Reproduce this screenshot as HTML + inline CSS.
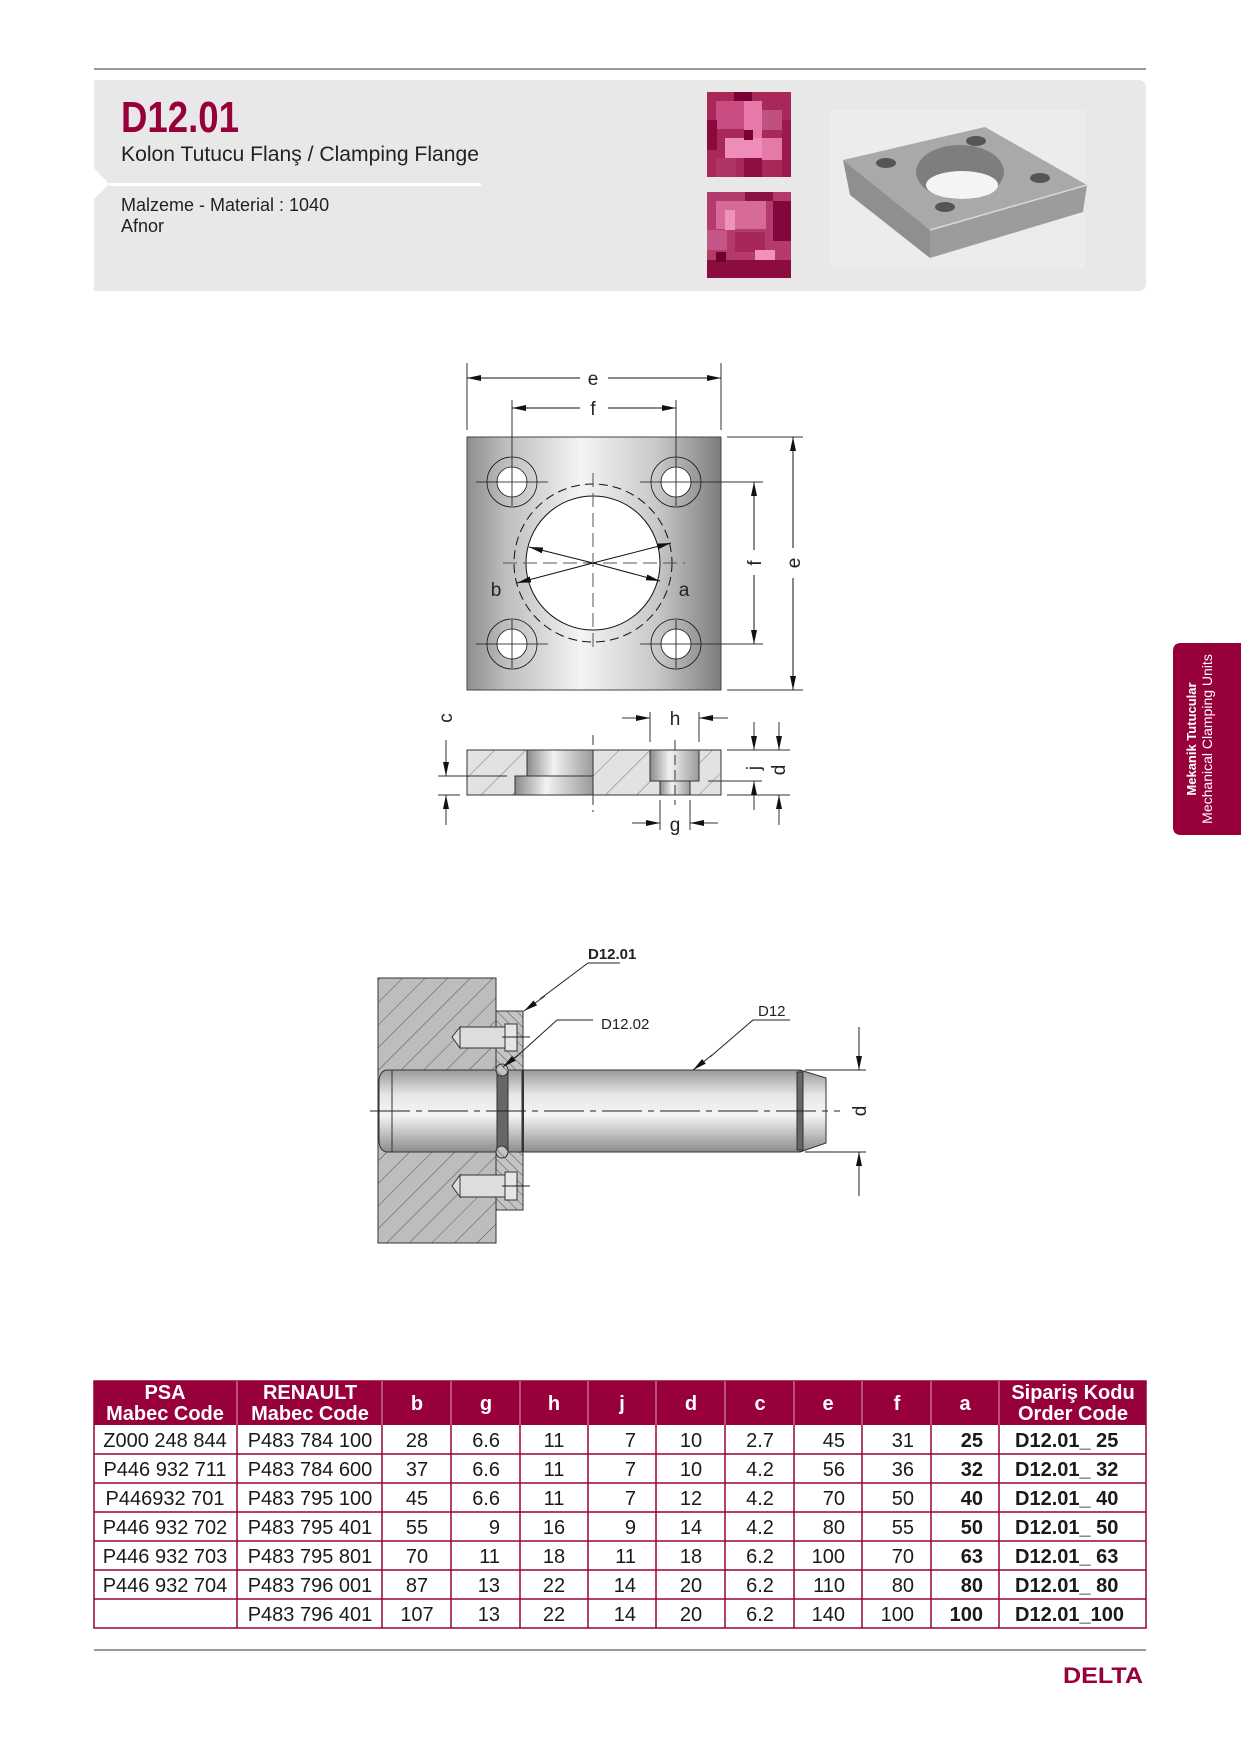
<!DOCTYPE html>
<html><head><meta charset="utf-8"><style>
html,body{margin:0;padding:0;background:#fff;}
svg{display:block;}
text{font-family:"Liberation Sans",Arial,sans-serif;}
.n{font-family:"Liberation Sans Narrow","Liberation Sans",sans-serif;}
</style></head><body>
<svg width="1241" height="1755" viewBox="0 0 1241 1755" xmlns="http://www.w3.org/2000/svg">
<defs>
<linearGradient id="plate" x1="0" x2="1" y1="0" y2="0">
<stop offset="0" stop-color="#8e8e8e"/><stop offset="0.15" stop-color="#bdbdbd"/><stop offset="0.45" stop-color="#f4f4f4"/><stop offset="0.75" stop-color="#c8c8c8"/><stop offset="1" stop-color="#7d7d7d"/>
</linearGradient>
<linearGradient id="bore" x1="0" x2="1" y1="0" y2="0">
<stop offset="0" stop-color="#8a8a8a"/><stop offset="0.4" stop-color="#f2f2f2"/><stop offset="1" stop-color="#9a9a9a"/>
</linearGradient>
<linearGradient id="pin" x1="0" x2="0" y1="0" y2="1">
<stop offset="0" stop-color="#9a9a9a"/><stop offset="0.3" stop-color="#e6e6e6"/><stop offset="0.55" stop-color="#f5f5f5"/><stop offset="1" stop-color="#8c8c8c"/>
</linearGradient>
<pattern id="hatch" width="22" height="22" patternUnits="userSpaceOnUse" patternTransform="rotate(45)">
<rect width="22" height="22" fill="#e2e2e2"/><line x1="0" y1="0" x2="0" y2="22" stroke="#777" stroke-width="1"/>
</pattern>
<pattern id="hatch2" width="16" height="16" patternUnits="userSpaceOnUse" patternTransform="rotate(45)">
<rect width="16" height="16" fill="#bdbdbd"/><line x1="0" y1="0" x2="0" y2="16" stroke="#555" stroke-width="1"/>
</pattern>
<pattern id="hatch3" width="7" height="7" patternUnits="userSpaceOnUse" patternTransform="rotate(-45)">
<rect width="7" height="7" fill="#c4c4c4"/><line x1="0" y1="0" x2="0" y2="7" stroke="#555" stroke-width="1"/>
</pattern>
<marker id="ar" viewBox="0 0 10 6" refX="10" refY="3" markerWidth="10" markerHeight="6" markerUnits="userSpaceOnUse" orient="auto"><path d="M0,0 L10,3 L0,6 z" fill="#111"/></marker>
<marker id="ar2" viewBox="0 0 14 6" refX="14" refY="3" markerWidth="14" markerHeight="6" markerUnits="userSpaceOnUse" orient="auto-start-reverse"><path d="M0,0 L14,3 L0,6 z" fill="#111"/></marker>
</defs>

<!-- top line -->
<rect x="94" y="68" width="1052" height="2" fill="#9a9a9a"/>
<!-- header box -->
<path d="M94,80 H1138 Q1146,80 1146,88 V283 Q1146,291 1138,291 H94 Z" fill="#e8e8e8"/>
<path d="M94,168 L109,184 L94,199 Z" fill="#fff"/>
<rect x="109" y="183" width="372" height="3" fill="#fff"/>
<text x="121" y="132" font-size="44" font-weight="bold" fill="#98003c" textLength="118" lengthAdjust="spacingAndGlyphs">D12.01</text>
<text x="121" y="161" font-size="21" fill="#222" textLength="358" lengthAdjust="spacingAndGlyphs">Kolon Tutucu Flanş / Clamping Flange</text>
<text x="121" y="211" font-size="18" fill="#222">Malzeme - Material : 1040</text>
<text x="121" y="232" font-size="18" fill="#222">Afnor</text>

<!-- mosaics -->
<g>
<rect x="707" y="92" width="84" height="85" fill="#a8285a"/>
<rect x="716" y="101" width="28" height="28" fill="#c94c82"/>
<rect x="744" y="101" width="18" height="38" fill="#e877aa"/>
<rect x="734" y="92" width="18" height="9" fill="#7a0032"/>
<rect x="762" y="110" width="20" height="20" fill="#c05080"/>
<rect x="707" y="120" width="10" height="30" fill="#8a0a3e"/>
<rect x="725" y="138" width="37" height="20" fill="#f08cba"/>
<rect x="744" y="130" width="9" height="10" fill="#7a0032"/>
<rect x="762" y="138" width="20" height="22" fill="#e37aa8"/>
<rect x="716" y="158" width="20" height="19" fill="#b13466"/>
<rect x="744" y="158" width="18" height="19" fill="#8d0f43"/>
<rect x="782" y="120" width="9" height="57" fill="#9a1a4c"/>
</g>
<g>
<rect x="707" y="192" width="84" height="86" fill="#b53a6c"/>
<rect x="716" y="201" width="50" height="28" fill="#d66a98"/>
<rect x="725" y="210" width="10" height="20" fill="#ef93bd"/>
<rect x="773" y="201" width="18" height="40" fill="#85063c"/>
<rect x="707" y="230" width="20" height="20" fill="#c5568a"/>
<rect x="735" y="232" width="30" height="20" fill="#a52858"/>
<rect x="755" y="250" width="20" height="12" fill="#f58fbe"/>
<rect x="707" y="260" width="84" height="18" fill="#8c0c40"/>
<rect x="716" y="252" width="10" height="10" fill="#6e002c"/>
<rect x="745" y="192" width="28" height="9" fill="#8a1244"/>
</g>

<!-- product photo -->
<rect x="830" y="110" width="255" height="158" fill="#ececec"/>
<polygon points="843,160 985,127 1087,185 930,230" fill="#a9a9a9"/>
<polygon points="843,160 930,230 930,258 850,195" fill="#8f8f8f"/>
<polygon points="930,230 1087,185 1083,212 930,258" fill="#9c9c9c"/>
<line x1="930" y1="230" x2="1087" y2="185" stroke="#d8d8d8" stroke-width="1.5"/>
<ellipse cx="960" cy="172" rx="44" ry="27" fill="#7e7e7e"/>
<ellipse cx="962" cy="185" rx="36" ry="14" fill="#f4f4f4"/>
<ellipse cx="886" cy="163" rx="10" ry="5" fill="#555"/>
<ellipse cx="976" cy="141" rx="10" ry="5" fill="#555"/>
<ellipse cx="1040" cy="178" rx="10" ry="5" fill="#555"/>
<ellipse cx="945" cy="207" rx="10" ry="5" fill="#555"/>

<!-- ===== Plate top view ===== -->
<g stroke="#111" stroke-width="1" fill="none">
<rect x="467" y="437" width="254" height="253" fill="url(#plate)" stroke="#444"/>
<circle cx="593" cy="563" r="79" stroke-dasharray="9,5"/>
<circle cx="593" cy="563" r="67" fill="#fff"/>
<g stroke-width="0.8">
<circle cx="512" cy="482" r="25"/><circle cx="512" cy="482" r="15" fill="#fff"/>
<circle cx="676" cy="482" r="25"/><circle cx="676" cy="482" r="15" fill="#fff"/>
<circle cx="512" cy="644" r="25"/><circle cx="512" cy="644" r="15" fill="#fff"/>
<circle cx="676" cy="644" r="25"/><circle cx="676" cy="644" r="15" fill="#fff"/>
<path d="M476,482 H548 M512,458 V506 M640,482 H712 M676,458 V506 M476,644 H548 M512,620 V668 M640,644 H712 M676,620 V668"/>
</g>
<path d="M503,563 H685 M593,473 V653" stroke-dasharray="14,6" stroke="#555"/>
<line x1="593" y1="563" x2="529" y2="547" marker-end="url(#ar2)"/>
<line x1="593" y1="563" x2="660" y2="581" marker-end="url(#ar2)"/>
<line x1="593" y1="563" x2="517" y2="583" marker-end="url(#ar2)"/>
<line x1="593" y1="563" x2="671" y2="543" marker-end="url(#ar2)"/>
<!-- dims -->
<path d="M467,363 V430 M721,363 V430 M512,400 V482 M676,400 V482" stroke="#333"/>
<line x1="580" y1="378" x2="467" y2="378" marker-end="url(#ar2)"/>
<line x1="608" y1="378" x2="721" y2="378" marker-end="url(#ar2)"/>
<line x1="580" y1="408" x2="512" y2="408" marker-end="url(#ar2)"/>
<line x1="608" y1="408" x2="676" y2="408" marker-end="url(#ar2)"/>
<path d="M690,482 H763 M690,644 H763 M727,437 H803 M727,690 H803" stroke="#333"/>
<line x1="754" y1="550" x2="754" y2="482" marker-end="url(#ar2)"/>
<line x1="754" y1="575" x2="754" y2="644" marker-end="url(#ar2)"/>
<line x1="793" y1="548" x2="793" y2="437" marker-end="url(#ar2)"/>
<line x1="793" y1="578" x2="793" y2="690" marker-end="url(#ar2)"/>
</g>
<g font-size="19" fill="#222">
<text x="593" y="385" text-anchor="middle">e</text>
<text x="593" y="415" text-anchor="middle">f</text>
<text x="496" y="596" text-anchor="middle">b</text>
<text x="684" y="596" text-anchor="middle">a</text>
<text transform="translate(761,563) rotate(-90)" text-anchor="middle">f</text>
<text transform="translate(800,563) rotate(-90)" text-anchor="middle">e</text>
</g>

<!-- ===== Plate section ===== -->
<g stroke="#333" stroke-width="1" fill="none">
<rect x="467" y="750" width="254" height="45" fill="url(#hatch)"/>
<rect x="527" y="750" width="66" height="26" fill="url(#bore)"/>
<rect x="515" y="776" width="78" height="19" fill="url(#bore)"/>
<rect x="650" y="750" width="49" height="31" fill="url(#bore)"/>
<rect x="660" y="781" width="30" height="14" fill="url(#bore)"/>
<path d="M593,735 V812 M675,740 V805" stroke-dasharray="10,5"/>
<path d="M438,776 H507 M438,795 H460 M650,712 V742 M699,712 V742 M660,800 V830 M690,800 V830 M727,750 H790 M708,781 H762 M727,795 H790"/>
<line x1="446" y1="740" x2="446" y2="776" marker-end="url(#ar2)"/>
<line x1="446" y1="825" x2="446" y2="795" marker-end="url(#ar2)"/>
<line x1="622" y1="718" x2="650" y2="718" marker-end="url(#ar2)"/>
<line x1="728" y1="718" x2="699" y2="718" marker-end="url(#ar2)"/>
<line x1="632" y1="823" x2="660" y2="823" marker-end="url(#ar2)"/>
<line x1="718" y1="823" x2="690" y2="823" marker-end="url(#ar2)"/>
<line x1="754" y1="722" x2="754" y2="750" marker-end="url(#ar2)"/>
<line x1="754" y1="810" x2="754" y2="781" marker-end="url(#ar2)"/>
<line x1="779" y1="722" x2="779" y2="750" marker-end="url(#ar2)"/>
<line x1="779" y1="825" x2="779" y2="795" marker-end="url(#ar2)"/>
</g>
<g font-size="19" fill="#222">
<text transform="translate(452,718) rotate(-90)" text-anchor="middle">c</text>
<text x="675" y="725" text-anchor="middle">h</text>
<text x="675" y="831" text-anchor="middle">g</text>
<text transform="translate(760,768) rotate(-90)" text-anchor="middle">j</text>
<text transform="translate(785,770) rotate(-90)" text-anchor="middle">d</text>
</g>

<!-- ===== Assembly ===== -->
<g stroke="#333" stroke-width="1">
<rect x="378" y="978" width="118" height="265" fill="url(#hatch2)"/>
<rect x="496" y="1011" width="27" height="199" fill="url(#hatch3)"/>
<!-- screws -->
<rect x="460" y="1027" width="45" height="21" fill="#ddd"/>
<polygon points="460,1027 452,1037 460,1048" fill="#ddd"/>
<rect x="505" y="1024" width="12" height="27" fill="#e6e6e6"/>
<rect x="460" y="1175" width="45" height="22" fill="#ddd"/>
<polygon points="460,1175 452,1186 460,1197" fill="#ddd"/>
<rect x="505" y="1172" width="12" height="28" fill="#e6e6e6"/>
<!-- pin -->
<path d="M386,1070 H800 L826,1078 V1143 L800,1152 H386 Q379,1150 379,1140 V1082 Q379,1072 386,1070 Z" fill="url(#pin)"/>
<line x1="392" y1="1070" x2="392" y2="1152"/>
<line x1="800" y1="1070" x2="800" y2="1152"/>
<rect x="797" y="1072" width="6" height="78" fill="#666"/>
<rect x="497" y="1070" width="11" height="82" fill="#666"/>
<rect x="522" y="1070" width="1.5" height="82" fill="#333"/>
<circle cx="502" cy="1070" r="6" fill="url(#hatch3)"/>
<circle cx="502" cy="1152" r="6" fill="url(#hatch3)"/>
</g>
<g stroke="#222" stroke-width="1" fill="none">
<line x1="370" y1="1111" x2="840" y2="1111" stroke-dasharray="40,6,6,6"/>
<path d="M502,1037 H530 M502,1186 H530"/>
<path d="M805,1070 H866 M805,1152 H866"/>
<line x1="859" y1="1027" x2="859" y2="1070" marker-end="url(#ar2)"/>
<line x1="859" y1="1196" x2="859" y2="1152" marker-end="url(#ar2)"/>
<path d="M620,963 H588 L540,999"/>
<line x1="545" y1="996" x2="524" y2="1011" marker-end="url(#ar2)"/>
<path d="M593,1020 H557 L515,1058"/>
<line x1="518" y1="1055" x2="503" y2="1067" marker-end="url(#ar2)"/>
<path d="M790,1020 H753 L710,1057"/>
<line x1="712" y1="1055" x2="693" y2="1070" marker-end="url(#ar2)"/>
</g>
<g fill="#222">
<text x="588" y="959" font-size="15" font-weight="bold">D12.01</text>
<text x="601" y="1029" font-size="15">D12.02</text>
<text x="758" y="1016" font-size="15">D12</text>
<text transform="translate(866,1111) rotate(-90)" font-size="19" text-anchor="middle">d</text>
</g>

<!-- side tab -->
<path d="M1181,643 H1241 V835 H1181 Q1173,835 1173,827 V651 Q1173,643 1181,643 Z" fill="#98003c"/>
<text transform="translate(1196,739) rotate(-90)" font-size="13" font-weight="bold" fill="#fff" text-anchor="middle" class="n">Mekanik Tutucular</text>
<text transform="translate(1212,739) rotate(-90)" font-size="14" fill="#fff" text-anchor="middle" class="n">Mechanical Clamping Units</text>

<!-- ===== Table ===== -->
<rect x="94" y="1381" width="1052" height="44" fill="#98003c"/>
<g stroke="#98003c" stroke-width="1.5" fill="none">
<rect x="94" y="1381" width="1052" height="247"/>
<path d="M94,1454 H1146 M94,1483 H1146 M94,1512 H1146 M94,1541 H1146 M94,1570 H1146 M94,1599 H1146"/>
<path d="M237,1425 V1628 M382,1425 V1628 M451,1425 V1628 M520,1425 V1628 M588,1425 V1628 M656,1425 V1628 M725,1425 V1628 M794,1425 V1628 M862,1425 V1628 M931,1425 V1628 M999,1425 V1628"/>
</g>
<g stroke="#d9a0b5" stroke-width="1">
<path d="M237,1381 V1425 M382,1381 V1425 M451,1381 V1425 M520,1381 V1425 M588,1381 V1425 M656,1381 V1425 M725,1381 V1425 M794,1381 V1425 M862,1381 V1425 M931,1381 V1425 M999,1381 V1425"/>
</g>
<g fill="#fff" font-weight="bold" font-size="20" text-anchor="middle" class="n">
<text x="165" y="1399">PSA</text><text x="165" y="1420">Mabec Code</text>
<text x="310" y="1399">RENAULT</text><text x="310" y="1420">Mabec Code</text>
<text x="417" y="1410">b</text><text x="486" y="1410">g</text><text x="554" y="1410">h</text>
<text x="622" y="1410">j</text><text x="691" y="1410">d</text><text x="760" y="1410">c</text>
<text x="828" y="1410">e</text><text x="897" y="1410">f</text><text x="965" y="1410">a</text>
<text x="1073" y="1399">Sipariş Kodu</text><text x="1073" y="1420">Order Code</text>
</g>
<g fill="#1a1a1a" font-size="20" class="n">
<g text-anchor="middle">
<text x="165" y="1447">Z000 248 844</text><text x="165" y="1476">P446 932 711</text><text x="165" y="1505">P446932 701</text><text x="165" y="1534">P446 932 702</text><text x="165" y="1563">P446 932 703</text><text x="165" y="1592">P446 932 704</text>
<text x="310" y="1447">P483 784 100</text><text x="310" y="1476">P483 784 600</text><text x="310" y="1505">P483 795 100</text><text x="310" y="1534">P483 795 401</text><text x="310" y="1563">P483 795 801</text><text x="310" y="1592">P483 796 001</text><text x="310" y="1621">P483 796 401</text>
<text x="417" y="1447">28</text><text x="417" y="1476">37</text><text x="417" y="1505">45</text><text x="417" y="1534">55</text><text x="417" y="1563">70</text><text x="417" y="1592">87</text><text x="417" y="1621">107</text>
<text x="554" y="1447">11</text><text x="554" y="1476">11</text><text x="554" y="1505">11</text><text x="554" y="1534">16</text><text x="554" y="1563">18</text><text x="554" y="1592">22</text><text x="554" y="1621">22</text>
<text x="691" y="1447">10</text><text x="691" y="1476">10</text><text x="691" y="1505">12</text><text x="691" y="1534">14</text><text x="691" y="1563">18</text><text x="691" y="1592">20</text><text x="691" y="1621">20</text>
<text x="760" y="1447">2.7</text><text x="760" y="1476">4.2</text><text x="760" y="1505">4.2</text><text x="760" y="1534">4.2</text><text x="760" y="1563">6.2</text><text x="760" y="1592">6.2</text><text x="760" y="1621">6.2</text>
</g>
<g text-anchor="end">
<text x="500" y="1447">6.6</text><text x="500" y="1476">6.6</text><text x="500" y="1505">6.6</text><text x="500" y="1534">9</text><text x="500" y="1563">11</text><text x="500" y="1592">13</text><text x="500" y="1621">13</text>
<text x="636" y="1447">7</text><text x="636" y="1476">7</text><text x="636" y="1505">7</text><text x="636" y="1534">9</text><text x="636" y="1563">11</text><text x="636" y="1592">14</text><text x="636" y="1621">14</text>
<text x="845" y="1447">45</text><text x="845" y="1476">56</text><text x="845" y="1505">70</text><text x="845" y="1534">80</text><text x="845" y="1563">100</text><text x="845" y="1592">110</text><text x="845" y="1621">140</text>
<text x="914" y="1447">31</text><text x="914" y="1476">36</text><text x="914" y="1505">50</text><text x="914" y="1534">55</text><text x="914" y="1563">70</text><text x="914" y="1592">80</text><text x="914" y="1621">100</text>
</g>
<g font-weight="bold">
<g text-anchor="end">
<text x="983" y="1447">25</text><text x="983" y="1476">32</text><text x="983" y="1505">40</text><text x="983" y="1534">50</text><text x="983" y="1563">63</text><text x="983" y="1592">80</text><text x="983" y="1621">100</text>
</g>
<text x="1015" y="1447">D12.01_ 25</text><text x="1015" y="1476">D12.01_ 32</text><text x="1015" y="1505">D12.01_ 40</text><text x="1015" y="1534">D12.01_ 50</text><text x="1015" y="1563">D12.01_ 63</text><text x="1015" y="1592">D12.01_ 80</text><text x="1015" y="1621">D12.01_100</text>
</g>
</g>

<rect x="94" y="1649" width="1052" height="2" fill="#9a9a9a"/>
<text x="1063" y="1683" font-size="22" font-weight="bold" fill="#98003c" textLength="80" lengthAdjust="spacingAndGlyphs">DELTA</text>
</svg>
</body></html>
